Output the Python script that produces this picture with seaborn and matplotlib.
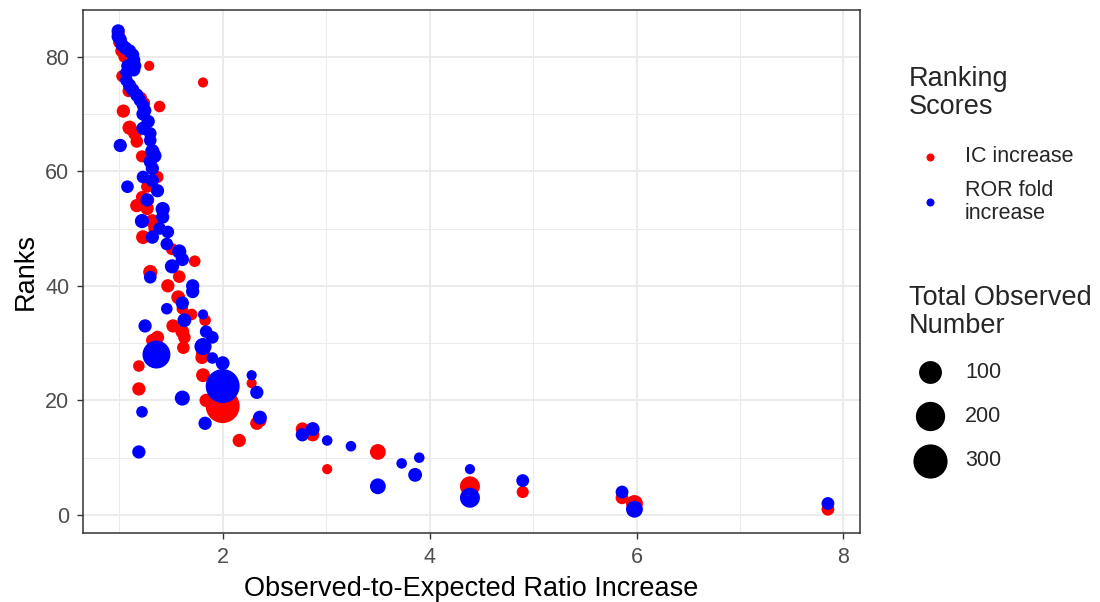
import numpy as np
import pandas as pd
import seaborn as sns
import matplotlib
matplotlib.use("Agg")
import matplotlib.pyplot as plt
from matplotlib.lines import Line2D

# ---------------- data ----------------
ic_ratio = [0.99, 1.00, 1.02, 1.05, 1.07, 1.03, 1.29, 1.81, 1.09, 1.21, 1.24, 1.39, 1.04, 1.10,
            1.15, 1.17, 1.22, 1.37, 1.27, 1.22, 1.28, 1.17, 1.27, 1.32, 1.34, 1.23, 1.51, 1.73,
            1.30, 1.58, 1.47, 1.57, 1.61, 1.70, 1.83, 1.52, 1.61, 1.63, 1.37, 1.32, 1.62, 1.81,
            1.80, 1.19, 1.81, 2.28, 1.19, 1.84, 2.00, 2.33, 2.36, 2.16, 2.77, 2.87, 3.01, 3.50,
            4.39, 4.90, 5.86, 5.98, 7.85]
ic_rank = [84, 82.5, 81, 80, 77, 76.6, 78.4, 75.5, 74, 72.8, 71.9, 71.3, 70.5, 67.6,
           66.6, 65.2, 62.6, 59, 57.3, 55.5, 55, 54, 53.5, 51.3, 50, 48.5, 46.4, 44.3,
           42.4, 41.6, 40, 38, 36, 35, 34, 33, 32, 31, 31, 30.5, 29.2, 28.3,
           27.5, 26, 24.4, 23, 22, 20, 19, 16, 16.5, 13, 15, 14, 8, 11,
           5, 4, 3, 2, 1]
ic_total = [13, 10, 10, 10, 10, 10, 4, 4, 10, 10, 10, 8, 15, 20,
            15, 12, 10, 10, 10, 10, 10, 15, 15, 18, 10, 18, 10, 8,
            20, 12, 15, 18, 8, 8, 8, 15, 18, 12, 15, 12, 12, 18,
            15, 8, 18, 4, 15, 15, 295, 15, 15, 15, 15, 15, 4, 30,
            66, 10, 13, 38, 13]

ror_ratio = [0.99, 0.99, 1.01, 1.03, 1.06, 1.10, 1.13, 1.14, 1.15, 1.08, 1.07, 1.14, 1.07, 1.10,
             1.13, 1.17, 1.20, 1.23, 1.25, 1.23, 1.28, 1.23, 1.30, 1.30, 1.01, 1.32, 1.34, 1.30,
             1.32, 1.23, 1.32, 1.08, 1.37, 1.27, 1.42, 1.42, 1.22, 1.39, 1.32, 1.47, 1.46, 1.58,
             1.61, 1.51, 1.30, 1.71, 1.71, 1.61, 1.46, 1.63, 1.81, 1.25, 1.84, 1.90, 1.81, 1.36,
             1.90, 2.00, 1.61, 2.28, 2.33, 2.00, 2.36, 1.22, 1.83, 1.19, 2.77, 2.87, 3.01, 3.24,
             3.50, 3.73, 3.90, 3.86, 4.39, 4.39, 4.90, 5.86, 5.98, 7.85]
ror_rank = [84.5, 83.5, 83, 82, 81.5, 81, 80.3, 79.4, 78.4, 78.4, 77.2, 77.7, 75.9, 75,
            74.2, 73.3, 72.4, 71.5, 70.6, 70, 68.7, 67.5, 66.6, 65.4, 64.5, 63.5, 62.7, 61.7,
            60.5, 59, 58.4, 57.3, 56.6, 55, 53.4, 52, 51.3, 50, 48.5, 49.4, 47.3, 46,
            44.6, 43.4, 41.5, 40, 39, 37, 36, 34, 35, 33, 32, 31, 29.4, 28,
            27.4, 26.5, 20.4, 24.4, 21.4, 22.5, 17, 18, 16, 11, 14, 15, 13, 12,
            5, 9, 10, 7, 8, 3, 6, 4, 1, 2]
ror_total = [15, 15, 15, 15, 15, 15, 15, 15, 15, 12, 12, 15, 12, 15,
             15, 15, 12, 12, 12, 15, 15, 15, 12, 12, 15, 20, 20, 15,
             15, 12, 15, 12, 15, 15, 20, 15, 20, 12, 15, 12, 12, 20,
             15, 20, 12, 15, 15, 15, 8, 18, 4, 15, 12, 12, 40, 176,
             8, 18, 25, 4, 15, 295, 18, 8, 15, 15, 15, 18, 5, 5,
             30, 5, 5, 18, 4, 66, 13, 13, 38, 13]

score_labels = ["IC increase", "ROR fold increase"]
legend_sizes = [100, 200, 300]

df = pd.concat([
    pd.DataFrame({"ratio": ic_ratio, "rank": ic_rank, "total": ic_total, "score": score_labels[0]}),
    pd.DataFrame({"ratio": ror_ratio, "rank": ror_rank, "total": ror_total, "score": score_labels[1]}),
], ignore_index=True)

# ggplot-like area scale: diameter(px) = 7.5 + 28*sqrt(rescaled)
VMIN, VMAX = 1, 330
def area_pt2(v):
    r = max(0.0, (v - VMIN) / (VMAX - VMIN))
    d_px = 7.5 + 28 * np.sqrt(r)
    return (d_px * 0.72) ** 2

size_map = {v: area_pt2(v) for v in sorted(df["total"].unique())}

# ---------------- plot ----------------
sns.set_theme(style="white")
plt.rcParams["font.family"] = ["Liberation Sans", "DejaVu Sans"]

fig = plt.figure(figsize=(11, 6.02), dpi=100)
ax = fig.add_axes([83 / 1100, 1 - 533 / 602, (860 - 83) / 1100, (533 - 10) / 602])

palette = {"IC increase": "#FF0000", "ROR fold increase": "#0000FF"}
sns.scatterplot(data=df, x="ratio", y="rank", hue="score", size="total",
                sizes=size_map, palette=palette, linewidth=0, alpha=1,
                legend=False, ax=ax, zorder=3)

ax.set_xlim(0.65, 8.16)
ax.set_ylim(-3.15, 88.15)
ax.set_xticks([2, 4, 6, 8])
ax.set_yticks([0, 20, 40, 60, 80])
ax.set_xticks([1, 3, 5, 7], minor=True)
ax.set_yticks([10, 30, 50, 70], minor=True)
ax.grid(which="major", color="#EBEBEB", linewidth=1.4, zorder=0)
ax.grid(which="minor", color="#EBEBEB", linewidth=0.7, zorder=0)
ax.set_axisbelow(True)
for s in ax.spines.values():
    s.set_color("#333333")
    s.set_linewidth(1.1)
ax.tick_params(which="major", direction="out", length=4.3, width=1, color="#333333",
               labelsize=15.5, labelcolor="#4D4D4D", bottom=True, left=True, pad=5.5)
ax.tick_params(which="minor", length=0)
ax.set_xlabel("Observed-to-Expected Ratio Increase", fontsize=19.5, color="black", labelpad=6)
ax.set_ylabel("Ranks", fontsize=19.5, color="black", labelpad=5)

# ---------------- legends ----------------
W, H = 1100, 602
def fx(px): return px / W
def fy(py): return 1 - py / H

fig.text(fx(909), fy(93), "Ranking\nScores", fontsize=19.5, va="center", ha="left",
         linespacing=1.08)
for lab, py in zip(["IC increase", "ROR fold\nincrease"], [157, 202]):
    fig.add_artist(Line2D([fx(930)], [fy(py)], marker="o", markersize=8 * 0.72,
                          markerfacecolor=palette[lab.replace("\n", " ")], markeredgewidth=0,
                          linestyle="none", transform=fig.transFigure))
    fig.text(fx(965), fy(py), lab, fontsize=15.5, va="center", ha="left", linespacing=1.12)

fig.text(fx(909), fy(312), "Total Observed\nNumber", fontsize=19.5, va="center", ha="left",
         linespacing=1.08)
for v, py in zip(legend_sizes, [372, 416, 461]):
    fig.add_artist(Line2D([fx(930)], [fy(py)], marker="o", markersize=np.sqrt(area_pt2(v)),
                          markerfacecolor="black", markeredgewidth=0,
                          linestyle="none", transform=fig.transFigure))
    fig.text(fx(965), fy(py), str(v), fontsize=15.5, va="center", ha="left")

fig.savefig("out.png", dpi=100)
